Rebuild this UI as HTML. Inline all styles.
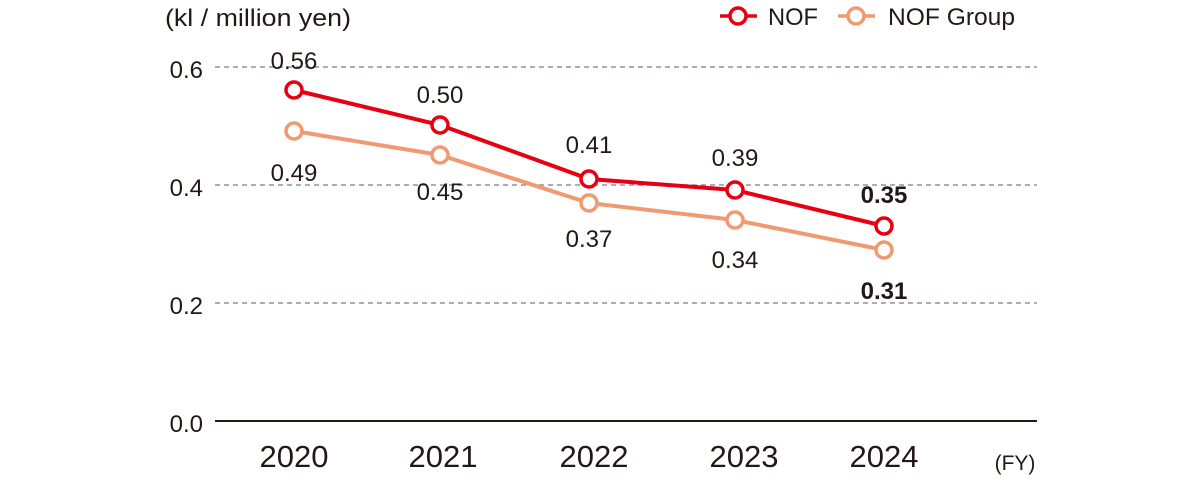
<!DOCTYPE html>
<html><head><meta charset="utf-8"><style>
html,body{margin:0;padding:0;background:#fff;}
svg{display:block;font-family:"Liberation Sans",Arial,sans-serif;}
</style></head><body>
<svg width="1200" height="482" viewBox="0 0 1200 482" xmlns="http://www.w3.org/2000/svg">
<g stroke="#8a93a6" stroke-width="1.5" stroke-dasharray="5,4">
<line x1="215" y1="67" x2="1037" y2="67"/>
<line x1="215" y1="185" x2="1037" y2="185"/>
<line x1="215" y1="303" x2="1037" y2="303"/>
</g>
<line x1="215" y1="421" x2="1037" y2="421" stroke="#231815" stroke-width="2"/>
<g font-size="24" fill="#231815" text-anchor="end">
<text x="203" y="78">0.6</text>
<text x="203" y="196">0.4</text>
<text x="203" y="314">0.2</text>
<text x="203" y="432">0.0</text>
</g>
<text x="165" y="26" font-size="24" fill="#231815" textLength="186" lengthAdjust="spacingAndGlyphs">(kl / million yen)</text>
<g font-size="31" fill="#231815" text-anchor="middle">
<text x="294" y="467">2020</text>
<text x="443" y="467">2021</text>
<text x="594" y="467">2022</text>
<text x="744" y="467">2023</text>
<text x="884" y="467">2024</text>
</g>
<text x="1015" y="470" font-size="21" fill="#231815" text-anchor="middle">(FY)</text>
<!-- legend -->
<line x1="720" y1="16" x2="757" y2="16" stroke="#e60012" stroke-width="3.5"/>
<circle cx="738" cy="16" r="8" fill="#fff" stroke="#e60012" stroke-width="3.5"/>
<text x="768" y="25" font-size="24" fill="#231815" textLength="50" lengthAdjust="spacingAndGlyphs">NOF</text>
<line x1="838" y1="16" x2="875" y2="16" stroke="#f09a72" stroke-width="3.5"/>
<circle cx="856" cy="16" r="8" fill="#fff" stroke="#f09a72" stroke-width="3.5"/>
<text x="888" y="25" font-size="24" fill="#231815" textLength="127" lengthAdjust="spacingAndGlyphs">NOF Group</text>
<!-- group -->
<polyline points="294,131 440,155 589,203 735,220 884,250" fill="none" stroke="#f09a72" stroke-width="4"/>
<g fill="#fff" stroke="#f09a72" stroke-width="3.5">
<circle cx="294" cy="131" r="8"/><circle cx="440" cy="155" r="8"/><circle cx="589" cy="203" r="8"/><circle cx="735" cy="220" r="8"/><circle cx="884" cy="250" r="8"/>
</g>
<!-- NOF -->
<polyline points="294,90 440,125 589,179 735,190 884,226" fill="none" stroke="#e60012" stroke-width="4"/>
<g fill="#fff" stroke="#e60012" stroke-width="3.5">
<circle cx="294" cy="90" r="8"/><circle cx="440" cy="125" r="8"/><circle cx="589" cy="179" r="8"/><circle cx="735" cy="190" r="8"/><circle cx="884" cy="226" r="8"/>
</g>
<g font-size="24" fill="#231815" text-anchor="middle">
<text x="294" y="69">0.56</text>
<text x="440" y="103">0.50</text>
<text x="589" y="153">0.41</text>
<text x="735" y="166">0.39</text>
<text x="884" y="203" font-weight="bold">0.35</text>
<text x="294" y="181">0.49</text>
<text x="440" y="200">0.45</text>
<text x="589" y="247">0.37</text>
<text x="735" y="268">0.34</text>
<text x="884" y="299" font-weight="bold">0.31</text>
</g>
</svg>
</body></html>
